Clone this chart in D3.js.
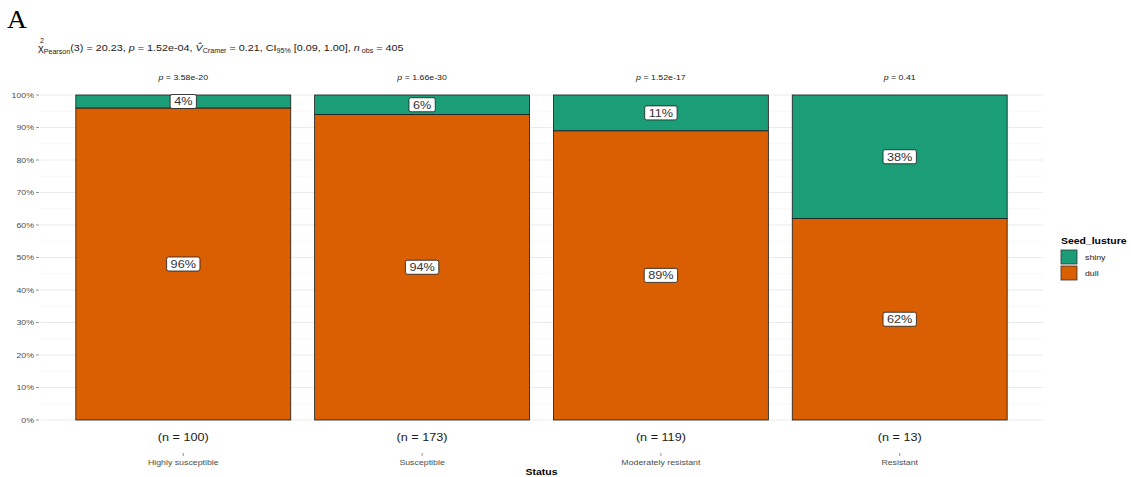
<!DOCTYPE html>
<html>
<head>
<meta charset="utf-8">
<script src="https://cdn.jsdelivr.net/npm/d3@7"></script>
<style>
body { margin: 0; background: #fff; }
text { font-family: "Liberation Sans", Arial, sans-serif; }
</style>
</head>
<body>
<script>
// chart data
var categories = ["Highly susceptible", "Susceptible", "Moderately resistant", "Resistant"];
var dullPct = [96, 94, 89, 62];
var shinyPct = [4, 6, 11, 38];
var counts = [100, 173, 119, 13];
var pLabels = ["3.58e-20", "1.66e-30", "1.52e-17", "0.41"];
var yTicks = [0, 10, 20, 30, 40, 50, 60, 70, 80, 90, 100];
var legendKeys = ["shiny", "dull"];
var colors = {shiny: "#1b9e77", dull: "#d95f02"};

var width = 1131, height = 477;
var SX = 1.1; // the original image text is slightly wider than tall

var svg = d3.select("body").append("svg")
	.attr("width", width)
	.attr("height", height);

// panel bounds
var panelLeft = 40, panelRight = 1043, panelTop = 95, panelBottom = 420;

// ggplot style discrete axis: expand 0.6, bar width 0.9
var step = (panelRight - panelLeft) / 4.2;
var xc = d3.scalePoint().domain(categories)
	.range([panelLeft + 0.6 * step, panelRight - 0.6 * step]);
var barW = step * 0.9;

var y = d3.scaleLinear().domain([0, 100]).range([panelBottom, panelTop]);

// gridlines
var minor = d3.range(5, 100, 10);
svg.selectAll(".minor").data(minor).enter().append("line")
	.attr("x1", panelLeft).attr("x2", panelRight)
	.attr("y1", d => y(d)).attr("y2", d => y(d))
	.attr("stroke", "#f3f3f3").attr("stroke-width", 0.6);
svg.selectAll(".major").data(yTicks).enter().append("line")
	.attr("x1", panelLeft).attr("x2", panelRight)
	.attr("y1", d => y(d)).attr("y2", d => y(d))
	.attr("stroke", "#ebebeb").attr("stroke-width", 1);

// y axis labels and ticks
svg.selectAll(".ytick").data(yTicks).enter().append("text")
	.attr("x", 34).attr("y", d => y(d) + 3)
	.attr("text-anchor", "end")
	.attr("font-size", 8).attr("fill", "#4d4d4d")
	.text(d => d + "%");
svg.selectAll(".ytickm").data(yTicks).enter().append("line")
	.attr("x1", 36).attr("x2", 39)
	.attr("y1", d => y(d)).attr("y2", d => y(d))
	.attr("stroke", "#4d4d4d").attr("stroke-width", 0.6);

// stacked bars
var rows = categories.map(function(c, i) {
	return {cat: c, dull: dullPct[i], shiny: shinyPct[i]};
});

rows.forEach(function(r) {
	var cx = xc(r.cat);
	svg.append("rect")
		.attr("x", cx - barW / 2).attr("width", barW)
		.attr("y", y(r.dull)).attr("height", y(0) - y(r.dull))
		.attr("fill", colors.dull).attr("stroke", "#1a1a1a").attr("stroke-width", 0.8);
	svg.append("rect")
		.attr("x", cx - barW / 2).attr("width", barW)
		.attr("y", y(100)).attr("height", y(r.dull) - y(100))
		.attr("fill", colors.shiny).attr("stroke", "#1a1a1a").attr("stroke-width", 0.8);
});

// percentage labels
function label(cx, cy, txt) {
	var g = svg.append("g");
	var t = g.append("text")
		.attr("x", cx).attr("y", cy + 4)
		.attr("text-anchor", "middle")
		.attr("font-size", 11.5).attr("fill", "#333")
		.text(txt);
	var w = t.node().getBBox().width * SX;
	g.insert("rect", "text")
		.attr("x", cx - w / 2 - 4).attr("y", cy - 7)
		.attr("width", w + 8).attr("height", 14)
		.attr("rx", 2).attr("fill", "#fff")
		.attr("stroke", "#1a1a1a").attr("stroke-width", 0.8);
}
rows.forEach(function(r) {
	var cx = xc(r.cat);
	label(cx, y(r.dull / 2), r.dull + "%");
	label(cx, y(r.dull + r.shiny / 2), r.shiny + "%");
});

// p-value labels above bars
categories.forEach(function(c, i) {
	var t = svg.append("text")
		.attr("x", xc(c)).attr("y", 80)
		.attr("text-anchor", "middle")
		.attr("font-size", 8).attr("fill", "#1a1a1a");
	t.append("tspan").attr("font-style", "italic").text("p");
	t.append("tspan").text(" = " + pLabels[i]);
});

// x axis: counts, ticks, categories
categories.forEach(function(c, i) {
	svg.append("text")
		.attr("x", xc(c)).attr("y", 441)
		.attr("text-anchor", "middle")
		.attr("font-size", 11.5).attr("fill", "#1a1a1a")
		.text("(n = " + counts[i] + ")");
	svg.append("line")
		.attr("x1", xc(c)).attr("x2", xc(c))
		.attr("y1", 453).attr("y2", 456)
		.attr("stroke", "#4d4d4d").attr("stroke-width", 0.6);
	svg.append("text")
		.attr("x", xc(c)).attr("y", 465)
		.attr("text-anchor", "middle")
		.attr("font-size", 8).attr("fill", "#4d4d4d")
		.text(c);
});

svg.append("text")
	.attr("x", (panelLeft + panelRight) / 2).attr("y", 475)
	.attr("text-anchor", "middle")
	.attr("font-size", 9.5).attr("font-weight", "bold").attr("fill", "#000")
	.text("Status");

// panel letter
svg.append("text")
	.attr("x", 7).attr("y", 28)
	.style("font-family", "'Liberation Serif', 'Times New Roman', serif")
	.attr("font-size", 25).attr("fill", "#000")
	.text("A");

// subtitle
var sub = svg.append("text")
	.attr("x", 38).attr("y", 51)
	.attr("font-size", 9.8).attr("fill", "#1a1a1a");
sub.append("tspan").text("\u03C7");
sub.append("tspan").attr("font-size", 6.5).attr("dy", 3).text("Pearson");
sub.append("tspan").attr("dy", -3).text("(3) = 20.23, ");
sub.append("tspan").attr("font-style", "italic").text("p");
sub.append("tspan").text(" = 1.52e-04, ");
sub.append("tspan").attr("font-style", "italic").text("V\u0302");
sub.append("tspan").attr("font-size", 6.5).attr("dy", 2).text("Cramer");
sub.append("tspan").attr("dy", -2).text(" = 0.21, CI");
sub.append("tspan").attr("font-size", 6.5).attr("dy", 2).text("95%");
sub.append("tspan").attr("dy", -2).text(" [0.09, 1.00], ");
sub.append("tspan").attr("font-style", "italic").text("n");
sub.append("tspan").attr("font-size", 6.5).attr("dy", 2).text(" obs");
sub.append("tspan").attr("dy", -2).text(" = 405");
// superscript 2
svg.append("text").attr("x", 40).attr("y", 43).attr("font-size", 6.5).attr("fill", "#1a1a1a").text("2");

// legend
svg.append("text")
	.attr("x", 1061).attr("y", 244)
	.attr("font-size", 9.5).attr("font-weight", "bold").attr("fill", "#000")
	.text("Seed_lusture");
legendKeys.forEach(function(k, i) {
	svg.append("rect")
		.attr("x", 1061).attr("y", 250 + i * 16)
		.attr("width", 16).attr("height", 14)
		.attr("fill", colors[k]).attr("stroke", "#333").attr("stroke-width", 0.8);
	svg.append("text")
		.attr("x", 1085).attr("y", 260 + i * 16)
		.attr("font-size", 8).attr("fill", "#1a1a1a")
		.text(k);
});

// stretch every text horizontally around its anchor point
svg.selectAll("text").each(function() {
	var el = d3.select(this);
	var tx = +el.attr("x"), ty = +el.attr("y");
	el.attr("transform", "translate(" + tx + "," + ty + ") scale(" + SX + ",1) translate(" + (-tx) + "," + (-ty) + ")");
});
</script>
</body>
</html>
